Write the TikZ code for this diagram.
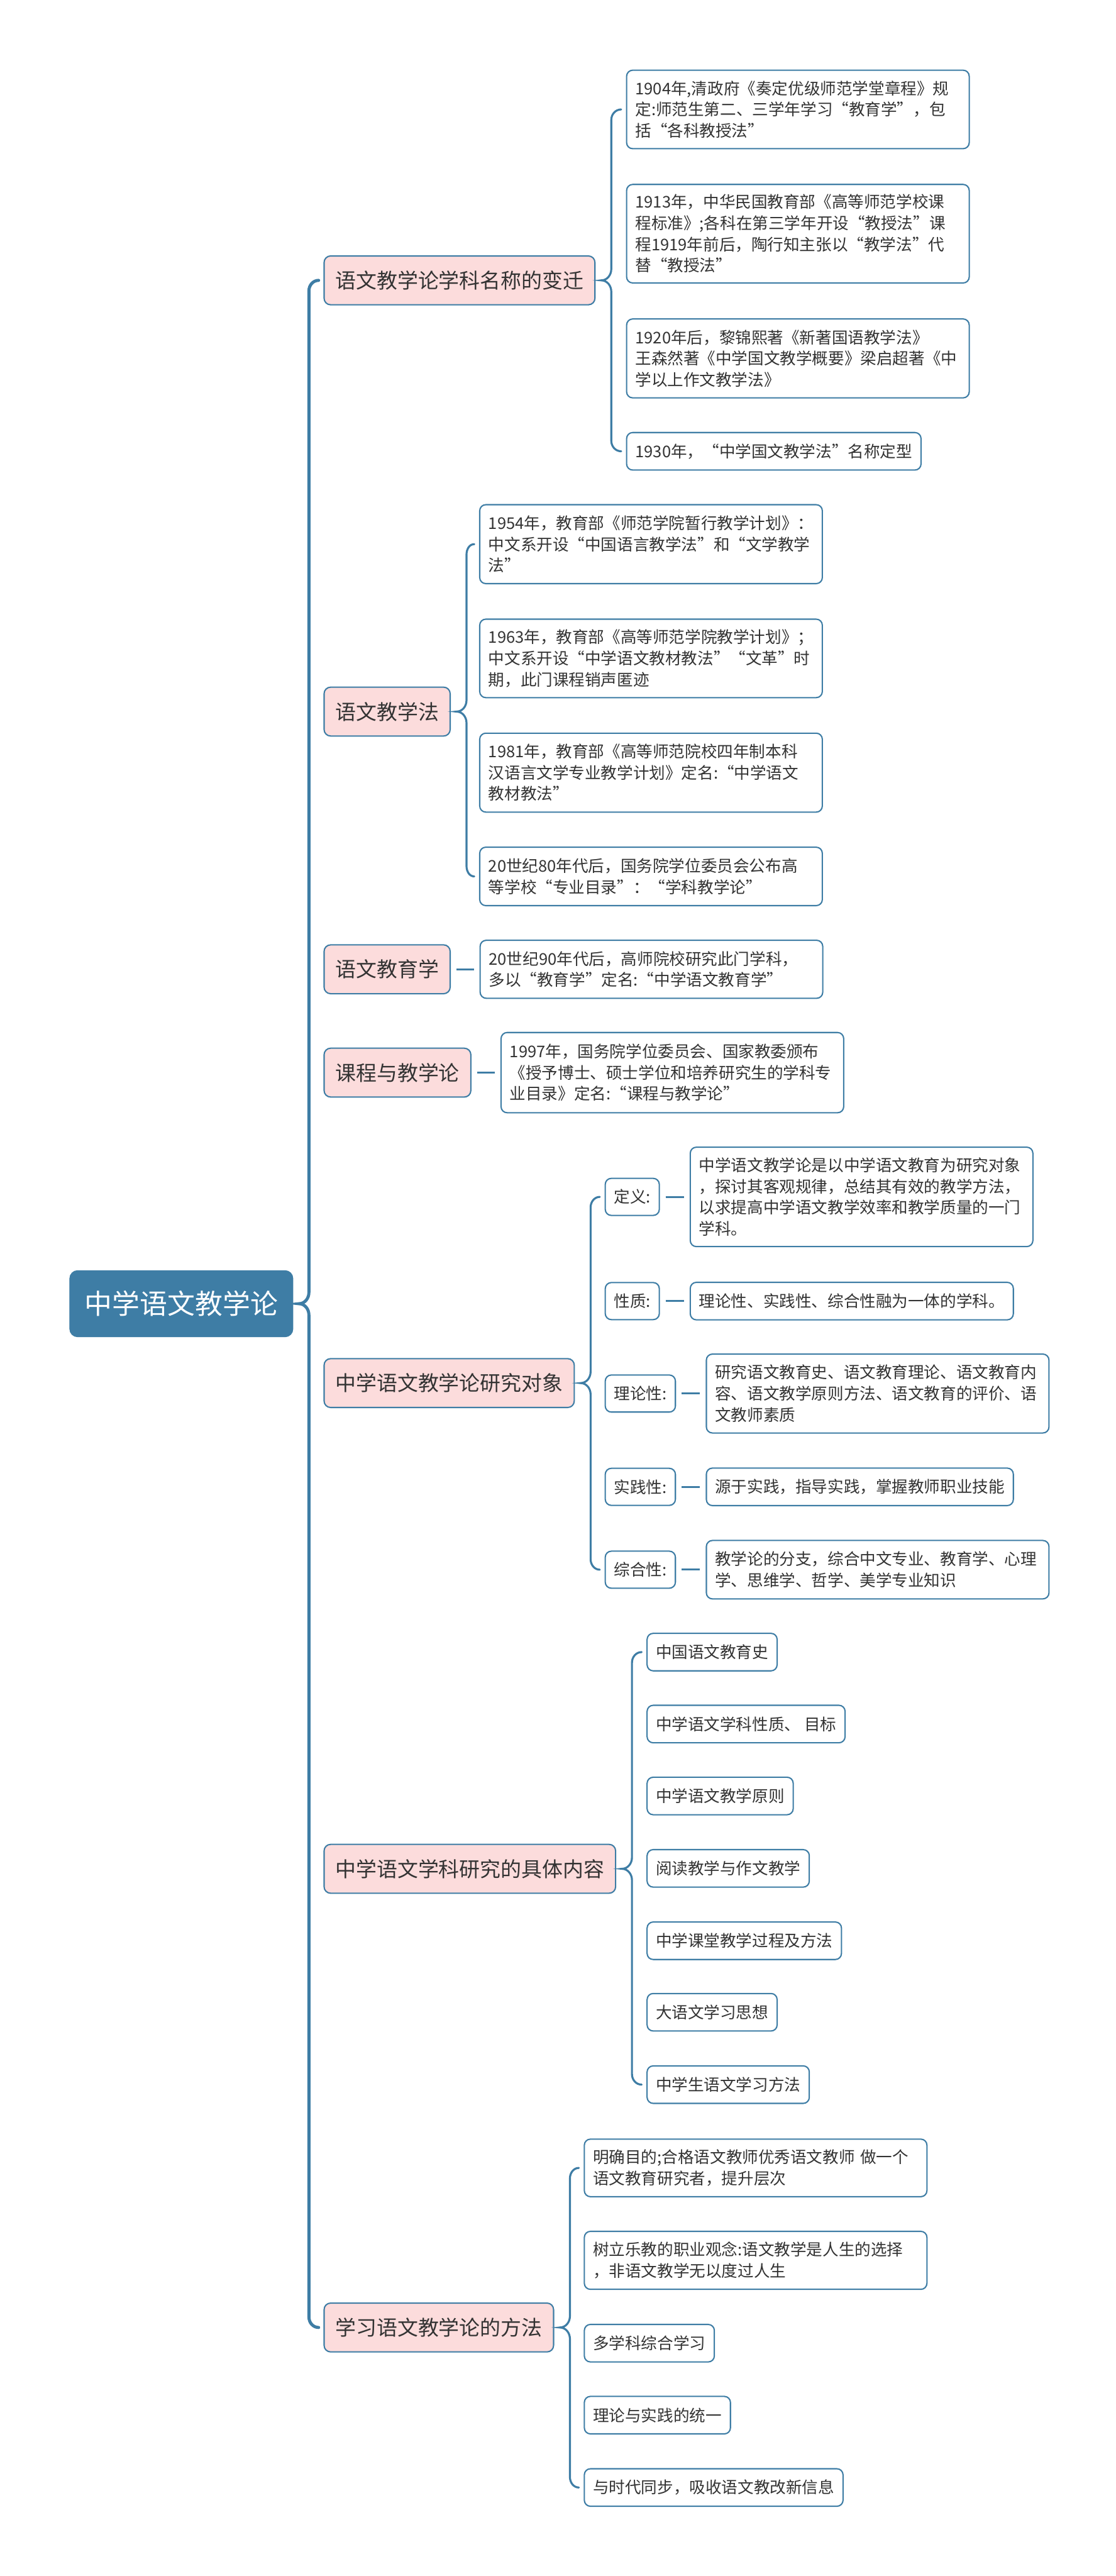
\documentclass[tikz,border=0pt]{standalone}
\usepackage{fontspec}
\setmainfont{Noto Sans CJK SC}
\usepackage{xcolor}
\usetikzlibrary{positioning,calc}
\definecolor{mapblue}{HTML}{3E7DA5}
\definecolor{topicpink}{HTML}{FCDCDC}
\definecolor{inkgray}{HTML}{333333}
\newcommand{\bracelink}[4][]{%
  \draw[forkline,#1] let \p1=(#2.east), \p2=(#3.west), \p3=(#4.west) in
    (\x2-1.1mm,\y2) to[out=180,in=90] (\x1+3.6mm,\y2-2.4mm)
    -- (\x1+3.6mm,\y1+2.6mm) to[out=-90,in=0] (\x1+1.3mm,\y1)
    to[out=0,in=90] (\x1+3.6mm,\y1-2.6mm)
    -- (\x1+3.6mm,\y3+2.4mm) to[out=-90,in=180] (\x3-1.1mm,\y3);}

\begin{document}
\begin{tikzpicture}[
  rootbox/.style={fill=mapblue, draw=mapblue, rounded corners=0.18cm, text=white,
                  font=\fontsize{18pt}{22pt}\selectfont,
                  minimum width=5.12cm, minimum height=1.52cm},
  topic/.style={fill=topicpink, draw=mapblue, line width=0.85pt, rounded corners=0.15cm,
                text=inkgray, font=\fontsize{13.5pt}{16pt}\selectfont,
                inner xsep=0.26cm, minimum height=1.12cm, anchor=west},
  leaf/.style={fill=white, draw=mapblue, line width=0.85pt, rounded corners=0.14cm,
               text=inkgray, font=\fontsize{10.5pt}{13.8pt}\selectfont,
               inner xsep=0.2cm, inner ysep=0.1cm, minimum height=0.86cm, anchor=west},
  longleaf/.style={leaf, text width=7.46cm, align=left, minimum height=#1},
  forkline/.style={draw=mapblue, line width=1.3pt, line cap=round},
  stub/.style={draw=mapblue, line width=1.2pt, shorten <=0.13cm, shorten >=0.13cm}]
  \fill[white] (0,0) rectangle (25.60,-59.08);
  \useasboundingbox (0,0) rectangle (25.60,-59.08);

  % root and main topics
  \node[rootbox] (root) at (4.16,-29.90) {中学语文教学论};
  \node[topic] (rename) at (7.42,-6.43) {语文教学论学科名称的变迁};
  \node[topic] (method) at (7.42,-16.32) {语文教学法};
  \node[topic] (edu) at (7.42,-22.23) {语文教育学};
  \node[topic] (course) at (7.42,-24.60) {课程与教学论};
  \node[topic] (object) at (7.42,-31.72) {中学语文教学论研究对象};
  \node[topic] (content) at (7.42,-42.86) {中学语文学科研究的具体内容};
  \node[topic] (study) at (7.42,-53.38) {学习语文教学论的方法};

  % name changes
  \node[longleaf=1.80cm] (r1) at (14.36,-2.51)
    {1904年,清政府《奏定优级师范学堂章程》规\\定:师范生第二、三学年学习“教育学”，包\\括“各科教授法”};
  \node[longleaf=2.26cm] (r2) at (14.36,-5.36)
    {1913年，中华民国教育部《高等师范学校课\\程标准》;各科在第三学年开设“教授法”课\\程1919年前后，陶行知主张以“教学法”代\\替“教授法”};
  \node[longleaf=1.81cm] (r3) at (14.36,-8.22)
    {1920年后，黎锦熙著《新著国语教学法》\\王森然著《中学国文教学概要》梁启超著《中\\学以上作文教学法》};
  \node[leaf] (r4) at (14.36,-10.35) {1930年，“中学国文教学法”名称定型};

  % teaching method
  \node[longleaf=1.81cm] (m1) at (10.99,-12.48)
    {1954年，教育部《师范学院暂行教学计划》：\\中文系开设“中国语言教学法”和“文学教学\\法”};
  \node[longleaf=1.80cm] (m2) at (10.99,-15.10)
    {1963年，教育部《高等师范学院教学计划》；\\中文系开设“中学语文教材教法”“文革”时\\期，此门课程销声匿迹};
  \node[longleaf=1.81cm] (m3) at (10.99,-17.72)
    {1981年，教育部《高等师范院校四年制本科\\汉语言文学专业教学计划》定名:“中学语文\\教材教法”};
  \node[longleaf=1.34cm] (m4) at (10.99,-20.10)
    {20世纪80年代后，国务院学位委员会公布高\\等学校“专业目录”：“学科教学论”};

  \node[longleaf=1.33cm] (e1) at (11.00,-22.23)
    {20世纪90年代后，高师院校研究此门学科，\\多以“教育学”定名:“中学语文教育学”};
  \node[longleaf=1.84cm] (c1) at (11.48,-24.60)
    {1997年，国务院学位委员会、国家教委颁布\\《授予博士、硕士学位和培养研究生的学科专\\业目录》定名:“课程与教学论”};

  % research object
  \node[leaf, minimum height=0.85cm] (ol1) at (13.87,-27.45) {定义:};
  \node[leaf, minimum height=0.85cm] (ol2) at (13.87,-29.84) {性质:};
  \node[leaf, minimum height=0.85cm] (ol3) at (13.87,-31.96) {理论性:};
  \node[leaf, minimum height=0.85cm] (ol4) at (13.87,-34.10) {实践性:};
  \node[leaf, minimum height=0.85cm] (ol5) at (13.87,-36.00) {综合性:};
  \node[longleaf=2.28cm, right=0.68cm of ol1] (od1)
    {中学语文教学论是以中学语文教育为研究对象\\，探讨其客观规律，总结其有效的教学方法，\\以求提高中学语文教学效率和教学质量的一门\\学科。};
  \node[leaf, right=0.68cm of ol2] (od2) {理论性、实践性、综合性融为一体的学科。};
  \node[longleaf=1.81cm, right=0.68cm of ol3] (od3)
    {研究语文教育史、语文教育理论、语文教育内\\容、语文教学原则方法、语文教育的评价、语\\文教师素质};
  \node[leaf, right=0.68cm of ol4] (od4) {源于实践，指导实践，掌握教师职业技能};
  \node[longleaf=1.34cm, right=0.68cm of ol5] (od5)
    {教学论的分支，综合中文专业、教育学、心理\\学、思维学、哲学、美学专业知识};

  % concrete content
  \node[leaf] (k1) at (14.83,-37.89) {中国语文教育史};
  \node[leaf] (k2) at (14.83,-39.54) {中学语文学科性质、 目标};
  \node[leaf] (k3) at (14.83,-41.19) {中学语文教学原则};
  \node[leaf] (k4) at (14.83,-42.85) {阅读教学与作文教学};
  \node[leaf] (k5) at (14.83,-44.51) {中学课堂教学过程及方法};
  \node[leaf] (k6) at (14.83,-46.15) {大语文学习思想};
  \node[leaf] (k7) at (14.83,-47.81) {中学生语文学习方法};

  % ways of study
  \node[longleaf=1.32cm] (s1) at (13.39,-49.72)
    {明确目的;合格语文教师优秀语文教师 做一个\\语文教育研究者，提升层次};
  \node[longleaf=1.33cm] (s2) at (13.39,-51.84)
    {树立乐教的职业观念:语文教学是人生的选择\\，非语文教学无以度过人生};
  \node[leaf] (s3) at (13.39,-53.74) {多学科综合学习};
  \node[leaf] (s4) at (13.39,-55.39) {理论与实践的统一};
  \node[leaf] (s5) at (13.39,-57.05) {与时代同步，吸收语文教改新信息};

  % connectors
  \bracelink[line width=2pt]{root}{rename}{study}
  \bracelink{rename}{r1}{r4}
  \bracelink{method}{m1}{m4}
  \bracelink{object}{ol1}{ol5}
  \bracelink{content}{k1}{k7}
  \bracelink{study}{s1}{s5}
  \draw[stub] (edu) -- (e1);
  \draw[stub] (course) -- (c1);
  \draw[stub] (ol1) -- (od1);
  \draw[stub] (ol2) -- (od2);
  \draw[stub] (ol3) -- (od3);
  \draw[stub] (ol4) -- (od4);
  \draw[stub] (ol5) -- (od5);
\end{tikzpicture}
\end{document}
